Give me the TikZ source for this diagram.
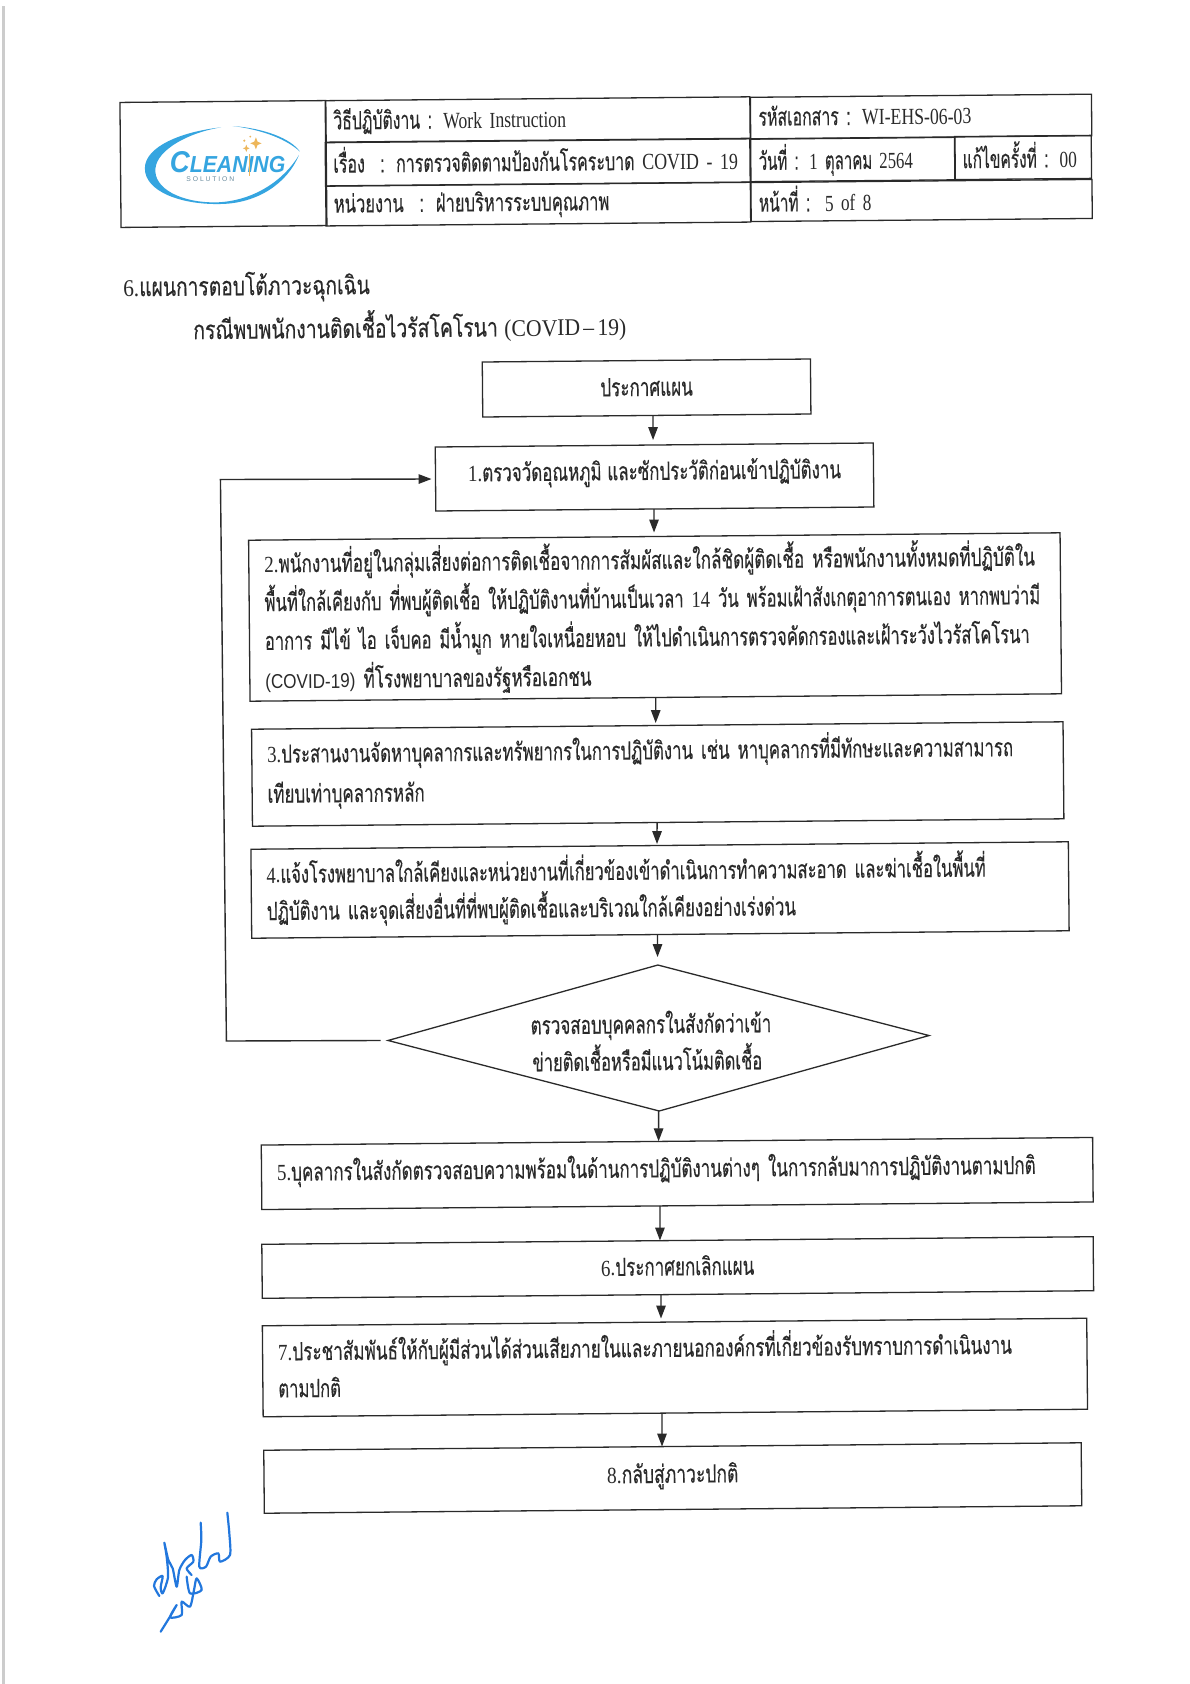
\documentclass[tikz,border=0pt]{standalone}
\usepackage{fontspec}
\usepackage{graphicx}
\usetikzlibrary{arrows.meta,shapes.geometric}
\newfontfamily\thaifont[Script=Thai,FakeStretch=0.70,FakeBold=0.3]{Loma}
\newfontfamily\latfont[Scale=0.92,FakeStretch=0.85,WordSpace=0.6]{Liberation Serif}
\newfontfamily\arialfont[Scale=0.8,FakeStretch=0.88]{Liberation Sans}
\newfontfamily\logofont{Liberation Sans}
\newcommand\lat[1]{{\latfont #1}}
\def\up{0pt}
\newcommand\fitl[2]{\raisebox{\up}[\height][\depth]{\resizebox{#1pt}{\height}{#2}}}
\definecolor{ink}{HTML}{2A2A2A}
\definecolor{logoblue}{HTML}{35A5E0}
\definecolor{logogold}{HTML}{EDB65A}
\definecolor{sigblue}{HTML}{2277DD}
\tikzset{
  x=1pt,y=-1pt,
  up/.style={execute at begin node={\def\up{#1pt}}},
  frame/.style={draw=ink,line width=1.3pt,rotate=0.52,inner ysep=0pt,inner xsep=0pt,text=ink,outer sep=0pt},
  thaitext/.style={font=\fontsize{25}{#1}\thaifont},
  stepl/.style n args={3}{frame,thaitext=#3,minimum width=#1pt,minimum height=#2pt,inner xsep=15.5pt,text width=#1pt-31pt,align=left},
  stepc/.style 2 args={frame,thaitext=38,minimum width=#1pt,minimum height=#2pt,align=center},
  cell/.style n args={2}{frame,thaitext=30,minimum width=#1pt,minimum height=#2pt,inner xsep=8pt,text width=#1pt-16pt,align=left},
  flow/.style={draw=ink,line width=1.4pt,-{Triangle[length=13pt,width=9.5pt]}},
  sig/.style={draw=sigblue,line width=2.2pt,line cap=round,line join=round},
  heading/.style={rotate=0.52,text=ink,font=\fontsize{26}{30}\thaifont,anchor=west,inner sep=0pt}
}
\begin{document}
\begin{tikzpicture}
\path[use as bounding box,fill=white] (0,0) rectangle (1190,1684);
\draw[line width=3pt,draw=gray!40] (3.5,6) -- (3.5,1684);
\begin{scope}[xshift=0.66pt,xscale=0.9945,transform shape]
% header table
\node[cell={207}{125}] (clogo) at (224,164) {};
\node[cell={427}{41.5}] (c11) at (540,119.5) {\fitl{234}{วิธีปฏิบัติงาน : \lat{Work Instruction}}};
\node[cell={427}{43.5},up=4.3] (c21) at (540,162.5) {\fitl{407}{เรื่อง~~: การตรวจติดตามป้องกันโรคระบาด \lat{COVID - 19}}};
\node[cell={427}{40}] (c31) at (540.5,204) {\fitl{277}{หน่วยงาน~~: ฝ่ายบริหารระบบคุณภาพ}};
\node[cell={343}{41.5},up=2] (c12) at (925.5,116.5) {\fitl{214}{รหัสเอกสาร : \lat{WI-EHS-06-03}}};
\node[cell={205.5}{42.5}] (c22) at (857,159.5) {\fitl{155}{วันที่ : \lat{1} ตุลาคม \lat{2564}}};
\node[cell={137.5}{43},up=3] (c23) at (1028,157.5) {\fitl{115}{แก้ไขครั้งที่ : \lat{00}}};
\node[cell={343}{39},up=3] (c32) at (926,200.5) {\fitl{113}{หน้าที่ :~~\lat{5 of 8}}};
% logo
\begin{scope}[shift={(125,110)},x=0.3333pt,y=-0.3333pt]
\fill[logoblue] (290,52) .. controls (170,65) and (60,110) .. (60,175) .. controls (60,245) and (170,285) .. (290,282) .. controls (400,280) and (490,220) .. (525,135) .. controls (480,210) and (390,272) .. (280,277) .. controls (170,280) and (85,235) .. (92,175) .. controls (97,120) and (190,68) .. (290,52) -- cycle;
\fill[logoblue] (325,48) .. controls (420,55) and (500,85) .. (528,125) .. controls (490,90) and (420,60) .. (325,48) -- cycle;
\fill[logogold] (395,82) -- (400,95) -- (412,100) -- (400,105) -- (395,118) -- (390,105) -- (378,100) -- (390,95) -- cycle;
\fill[logogold] (366,104) -- (369,112) -- (376,115) -- (369,118) -- (366,126) -- (363,118) -- (356,115) -- (363,112) -- cycle;
\fill[logogold] (360,92) circle (3.5);
\fill[logogold] (378,80) circle (3);
\node[inner sep=0pt,text=logoblue,anchor=west] (logoword) at (135,157) {\resizebox{116pt}{21pt}{\logofont\bfseries\itshape\fontsize{26}{26}\selectfont C\fontsize{20}{20}\selectfont LEANING}};
\draw[logogold,line width=1pt] (375,132) -- (375,198);
\node[inner sep=0pt,text=gray!70!logoblue,anchor=west] (logosub) at (185,208) {\resizebox{48pt}{!}{\logofont\fontsize{6}{6}\selectfont S O L U T I O N}};
\end{scope}
% headings
\node[heading] (h1) at (123,288) {\fitl{248}{\lat{6.}แผนการตอบโต้ภาวะฉุกเฉิน}};
\node[heading] (h2) at (193.5,328) {\fitl{435.5}{กรณีพบพนักงานติดเชื้อไวรัสโคโรนา \lat{(COVID – 19)}}};
% flow boxes
\node[stepc={330}{55},up=1] (plan) at (649.5,388) {\fitl{93}{ประกาศแผน}};
\node[stepc={440.5}{64},up=4.3] (b1) at (657.5,477) {\fitl{375}{\lat{1.}ตรวจวัดอุณหภูมิ และซักประวัติก่อนเข้าปฏิบัติงาน}};
\node[stepl={816}{161}{38.7}] (b2) at (658,617) {%
\fitl{775}{\lat{2.}พนักงานที่อยู่ในกลุ่มเสี่ยงต่อการติดเชื้อจากการสัมผัสและใกล้ชิดผู้ติดเชื้อ หรือพนักงานทั้งหมดที่ปฏิบัติใน}\\
\fitl{780}{พื้นที่ใกล้เคียงกับ ที่พบผู้ติดเชื้อ ให้ปฏิบัติงานที่บ้านเป็นเวลา \lat{14} วัน พร้อมเฝ้าสังเกตุอาการตนเอง หากพบว่ามี}\\
\fitl{769}{อาการ มีไข้ ไอ เจ็บคอ มีน้ำมูก หายใจเหนื่อยหอบ ให้ไปดำเนินการตรวจคัดกรองและเฝ้าระวังไวรัสโคโรนา}\\
\fitl{328}{{\arialfont (COVID-19)} ที่โรงพยาบาลของรัฐหรือเอกชน}};
\node[stepl={816}{97}{40},up=4.3] (b3) at (660.7,774) {%
\fitl{750}{\lat{3.}ประสานงานจัดหาบุคลากรและทรัพยากรในการปฏิบัติงาน เช่น หาบุคลากรที่มีทักษะและความสามารถ}\\
\fitl{158}{เทียบเท่าบุคลากรหลัก}};
\node[stepl={822}{89}{37},up=2] (b4) at (663,890) {%
\fitl{723}{\lat{4.}แจ้งโรงพยาบาลใกล้เคียงและหน่วยงานที่เกี่ยวข้องเข้าดำเนินการทำความสะอาด และฆ่าเชื้อในพื้นที่}\\
\fitl{532}{ปฏิบัติงาน และจุดเสี่ยงอื่นที่ที่พบผู้ติดเชื้อและบริเวณใกล้เคียงอย่างเร่งด่วน}};
\node[frame,diamond,aspect=3.73,minimum width=544pt,minimum height=146pt,thaitext=37,align=center,up=-2.5] (dec) at (661.5,1038) {%
\fitl{242}{ตรวจสอบบุคคลกรในสังกัดว่าเข้า}\hspace*{15pt}\\
\fitl{231}{ข่ายติดเชื้อหรือมีแนวโน้มติดเชื้อ}\hspace*{23pt}};
\node[stepl={836}{64.5}{38},up=4.3] (b5) at (680.3,1173.5) {\fitl{763}{\lat{5.}บุคลากรในสังกัดตรวจสอบความพร้อมในด้านการปฏิบัติงานต่างๆ ในการกลับมาการปฏิบัติงานตามปกติ}};
\node[stepc={836}{54},up=2] (b6) at (680.8,1267.5) {\fitl{154}{\lat{6.}ประกาศยกเลิกแผน}};
\node[stepl={829}{91}{37},up=5] (b7) at (678,1367.5) {%
\fitl{738}{\lat{7.}ประชาสัมพันธ์ให้กับผู้มีส่วนได้ส่วนเสียภายในและภายนอกองค์กรที่เกี่ยวข้องรับทราบการดำเนินงาน}\\
\fitl{63}{ตามปกติ}};
\node[stepc={822}{63},up=2] (b8) at (675.8,1478) {\fitl{132}{\lat{8.}กลับสู่ภาวะปกติ}};
% connectors
\draw[flow,shorten >=5pt] ([xshift=6.25pt]plan.south) -- ([xshift=-1.2pt]b1.north);
\draw[flow,shorten >=4pt] ([xshift=-0.8pt]b1.south) -- ([xshift=-0.3pt]b2.north);
\draw[flow,shorten >=2.5pt] (b2.south) -- ([xshift=-1.6pt]b3.north);
\draw[flow,shorten >=1.5pt] ([xshift=-1.1pt]b3.south) -- ([xshift=-2.6pt]b4.north);
\draw[flow,shorten >=8pt] ([xshift=-2.9pt]b4.south) -- ([xshift=-0.3pt]dec.north);
\draw[flow] ([xshift=-0.6pt]dec.south) -- ([xshift=-18.4pt]b5.north);
\draw[flow] ([xshift=-17.6pt]b5.south) -- ([xshift=-17.6pt]b6.north);
\draw[flow,shorten >=3.5pt] ([xshift=-17pt]b6.south) -- ([xshift=-13.6pt]b7.north);
\draw[flow] ([xshift=-13.4pt]b7.south) -- ([xshift=-10.5pt]b8.north);
\coordinate (loopb) at (227,1041);
\coordinate (loopt) at (221,479.5);
\draw[flow,shorten <=7.5pt,shorten >=4pt] (dec.west) -- (loopb) -- (loopt) -- (b1.west);
\end{scope}
% signature
\begin{scope}[shift={(140,1500)},x=0.3333pt,y=-0.3333pt]
\draw[sig] plot[smooth,tension=0.45] coordinates {(58,288) (42,258) (50,238) (68,228) (62,262) (68,280) (84,232) (80,170) (73,128) (85,180) (98,205) (110,260) (118,210) (135,180) (155,165) (160,185) (140,205) (155,225)};
\draw[sig] plot[smooth,tension=0.45] coordinates {(182,68) (184,120) (178,200) (198,200) (212,170) (235,160) (240,185) (270,165) (268,100) (262,38)};
\draw[sig] plot[smooth,tension=0.45] coordinates {(62,395) (90,350) (110,315) (90,352) (125,345) (125,305) (150,320) (162,270) (170,235) (185,270) (150,280) (140,230)};
\end{scope}
\end{tikzpicture}
\end{document}
